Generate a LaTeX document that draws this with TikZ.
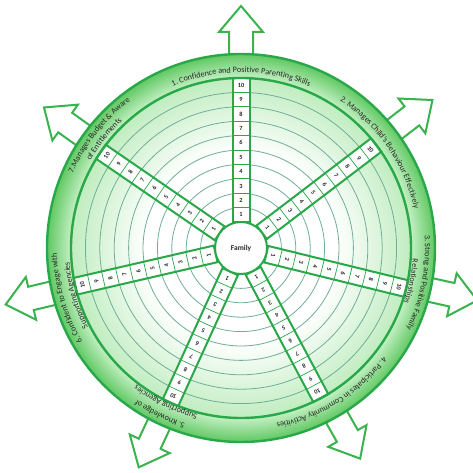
\documentclass[tikz,border=0pt]{standalone}
\usepackage{fontspec}
\setmainfont{Carlito}
\usetikzlibrary{decorations.text}
\definecolor{gline}{RGB}{40,168,72}
\definecolor{ringc}{RGB}{112,174,152}
\definecolor{bandout}{RGB}{96,200,98}
\definecolor{bandin}{RGB}{196,240,196}
\definecolor{discedge}{RGB}{192,237,192}
\definecolor{arrowc}{RGB}{58,178,78}
\definecolor{txt}{RGB}{40,40,40}
\pgfdeclareradialshading{bandshade}{\pgfpoint{0bp}{0bp}}{color(0bp)=(bandin); color(21.9bp)=(bandin); color(25bp)=(bandout); color(50bp)=(bandout)}
\pgfdeclareradialshading{discshade}{\pgfpoint{0bp}{0bp}}{color(0bp)=(white); color(14bp)=(white); color(25bp)=(discedge); color(50bp)=(discedge)}
\newcommand\lblfont{\fontsize{8.2}{9}\selectfont}
\tikzset{
  arrowline/.style={draw=arrowc, line width=2pt, fill=white, line join=miter},
  ringline/.style={draw=ringc, line width=0.8pt},
  spokebox/.style={draw=gline, line width=2pt, fill=white},
  celldiv/.style={draw=gline, line width=0.7pt},
  num/.style={font=\fontsize{6.3}{7}\selectfont\bfseries, text=txt, inner sep=0pt},
  bordline/.style={draw=gline, line width=2.4pt},
  lbl/.style={decorate, decoration={text along path, text align=center, text color=txt}}
}
\begin{document}
\begin{tikzpicture}[x=1pt,y=1pt]
\useasboundingbox (-241,-225) rectangle (232,248);
% arrows
\foreach \a in {90,37.7,-12.5,-60.5,-115,193.5,144.5}{
  \begin{scope}[rotate=\a]
    \draw[arrowline] (180,-12) -- (216,-12) -- (216,-22) -- (242,0) -- (216,22) -- (216,12) -- (180,12) -- cycle;
  \end{scope}
}
% band and disc
\shade[shading=bandshade] (0,0) circle (194);
\shade[shading=discshade] (0,0) circle (170);
\foreach \k in {1,...,9} \draw[ringline] (0,0) circle ({26+14.4*\k});
% spokes
\foreach \a [count=\i] in {90,37.3,-13.8,-62,-114.5,193,145.5}{
  \begin{scope}[rotate=\a]
    \draw[spokebox] (26,-8.5) rectangle (170,8.5);
    \foreach \k in {1,...,9} \draw[celldiv] ({26+14.4*\k},-8.5) -- ({26+14.4*\k},8.5);
  \end{scope}
  \foreach \k in {1,...,10}
    \node[num, rotate=\a-90] (s\i-\k) at (\a:{26+14.4*(\k-0.5)}) {\k};
}
\draw[bordline] (0,0) circle (170);
\draw[bordline] (0,0) circle (194);
\node[circle, draw=gline, line width=2pt, fill=white, minimum size=52pt, inner sep=0pt, font=\fontsize{7.5}{8}\selectfont\bfseries, text=txt] (family) at (0,0) {Family};
% labels
\path[lbl, decoration={text={|\lblfont|1. Confidence and Positive Parenting Skills}}] (150:175.5) arc[start angle=150, end angle=30, radius=175.5];
\path[lbl, decoration={text={|\lblfont|2. Manages Child's Behaviour Effectively}}] (94.5:177.5) arc[start angle=94.5, end angle=-25.5, radius=177.5];
\path[lbl, decoration={text={|\lblfont|3. Strong and Positive Family}}] (49:184) arc[start angle=49, end angle=-71, radius=184];
\path[lbl, decoration={text={|\lblfont|Relationships}}] (49:172) arc[start angle=49, end angle=-71, radius=172];
\path[lbl, decoration={text={|\lblfont|4. Participates in Community Activities}}] (2:179) arc[start angle=2, end angle=-118, radius=179];
\path[lbl, decoration={text={|\lblfont|5. Knowledge of}}] (-56:184) arc[start angle=-56, end angle=-176, radius=184];
\path[lbl, decoration={text={|\lblfont|Supporting Agencies}}] (-56:172) arc[start angle=-56, end angle=-176, radius=172];
\path[lbl, decoration={text={|\lblfont|6. Confident to Engage with}}] (256:184) arc[start angle=256, end angle=136, radius=184];
\path[lbl, decoration={text={|\lblfont|Supporting Agencies}}] (256:172) arc[start angle=256, end angle=136, radius=172];
\path[lbl, decoration={text={|\lblfont|7.Manages Budget {\&} Aware}}] (201.5:184) arc[start angle=201.5, end angle=81.5, radius=184];
\path[lbl, decoration={text={|\lblfont|of Entitlements}}] (201.5:174) arc[start angle=201.5, end angle=81.5, radius=174];
\end{tikzpicture}
\end{document}
